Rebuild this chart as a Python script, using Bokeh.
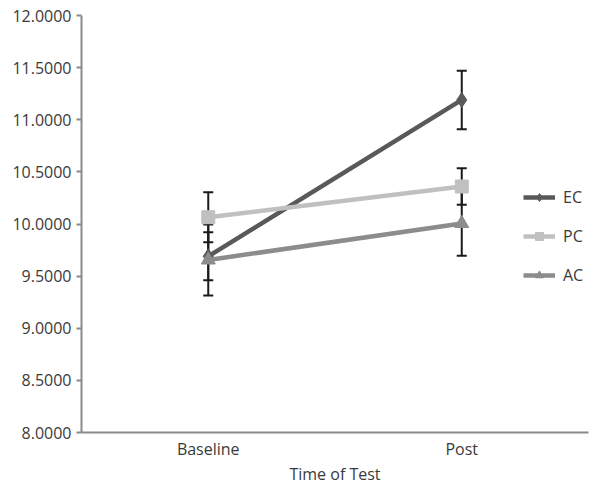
from bokeh.plotting import figure
from bokeh.models import ColumnDataSource, Whisker, Legend, LegendItem, FixedTicker, TeeHead, NumeralTickFormatter
from bokeh.embed import file_html
from bokeh.resources import INLINE

times = ["Baseline", "Post"]
series = ["EC", "PC", "AC"]
ec_mean = [9.69, 11.19]
ec_err = [0.23, 0.28]
pc_mean = [10.065, 10.36]
pc_err = [0.24, 0.175]
ac_mean = [9.655, 10.005]
ac_err = [0.34, 0.31]
y_ticks = [8.0, 8.5, 9.0, 9.5, 10.0, 10.5, 11.0, 11.5, 12.0]

colors = {"EC": "#595959", "PC": "#c0c0c0", "AC": "#8c8c8c"}
markers = {"EC": "diamond", "PC": "square", "AC": "triangle"}
msizes = {"EC": 15, "PC": 13, "AC": 14}
data = {"EC": (ec_mean, ec_err), "PC": (pc_mean, pc_err), "AC": (ac_mean, ac_err)}

FONT = "Open Sans"
TXT = "#3a3a3a"
AX = "#8a8a8a"

p = figure(x_range=times, y_range=(8, 12), width=595, height=487,
           output_backend="svg", toolbar_location=None,
           min_border_left=81, min_border_right=7, min_border_top=15, min_border_bottom=55)
p.outline_line_color = None
p.xgrid.grid_line_color = None
p.ygrid.grid_line_color = None
p.background_fill_color = "white"
p.border_fill_color = "white"

p.yaxis.ticker = FixedTicker(ticks=y_ticks)
p.yaxis.formatter = NumeralTickFormatter(format="0.0000")
for ax in (p.xaxis[0], p.yaxis[0]):
    ax.axis_line_color = AX
    ax.axis_line_width = 2
    ax.major_tick_line_color = AX
    ax.major_tick_line_width = 2
    ax.major_tick_out = 5
    ax.major_tick_in = 0
    ax.minor_tick_line_color = None
    ax.major_label_text_font = FONT
    ax.major_label_text_font_size = "16px"
    ax.major_label_text_color = TXT
    ax.axis_label_text_font = FONT
    ax.axis_label_text_font_size = "16px"
    ax.axis_label_text_font_style = "normal"
    ax.axis_label_text_color = TXT
p.yaxis.major_label_standoff = 5
p.xaxis.major_tick_line_color = None
p.xaxis.major_tick_out = 0
p.xaxis.major_label_standoff = 5
p.xaxis.axis_label = "Time of Test"
p.xaxis.axis_label_standoff = 0

items = []
for s in series:
    m, e = data[s]
    src = ColumnDataSource(dict(x=times, y=m,
                                upper=[a + b for a, b in zip(m, e)],
                                lower=[a - b for a, b in zip(m, e)]))
    w = Whisker(base="x", upper="upper", lower="lower", source=src,
                line_color="#1a1a1a", line_width=2,
                upper_head=TeeHead(size=10, line_color="#1a1a1a", line_width=2),
                lower_head=TeeHead(size=10, line_color="#1a1a1a", line_width=2))
    p.add_layout(w)

for s in series:
    m, e = data[s]
    src = ColumnDataSource(dict(x=times, y=m))
    ln = p.line("x", "y", source=src, line_color=colors[s], line_width=4.5)
    sc = p.scatter("x", "y", source=src, marker=markers[s], size=msizes[s],
                   fill_color=colors[s], line_color=colors[s])
    items.append(LegendItem(label=s, renderers=[ln, sc]))

legend = Legend(items=items, location=(442, 146), padding=0, margin=0,
                spacing=17, glyph_width=32, glyph_height=20, label_height=20,
                label_standoff=8, label_text_font=FONT, label_text_font_size="16px",
                label_text_color=TXT, border_line_color=None, background_fill_alpha=0)
p.add_layout(legend)

open("out.html", "w").write(file_html(p, INLINE))
